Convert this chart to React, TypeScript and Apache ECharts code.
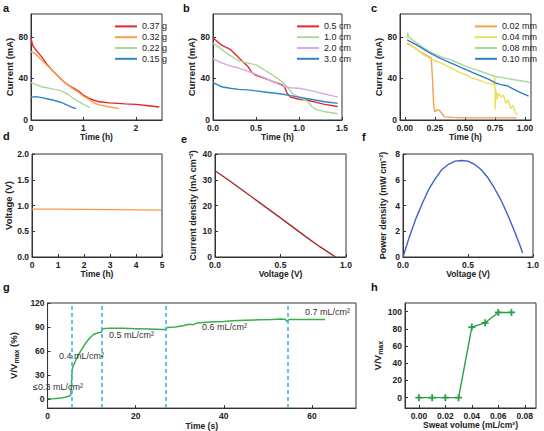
import React, { useEffect, useRef } from 'react';
import * as echarts from 'echarts';

const FONT = '"Liberation Sans", Arial, Helvetica, sans-serif';
const AX = '#333';
const TXT = '#222';

// ---------- Panel a ----------
const aNames = ['0.37 g', '0.32 g', '0.22 g', '0.15 g'];
const aColors = ['#E3262B', '#F9A04A', '#A9D89B', '#2C86C9'];
const a037 = [[0, 79], [0.03, 72], [0.1, 67], [0.2, 61], [0.3, 54], [0.4, 48], [0.5, 43], [0.6, 38], [0.7, 34], [0.8, 31], [0.9, 28], [1.0, 24], [1.1, 21], [1.2, 19], [1.3, 17.5], [1.5, 16.5], [1.8, 15.5], [2.0, 15], [2.2, 14], [2.45, 12.5]];
const a032 = [[0, 66], [0.1, 63], [0.2, 58], [0.3, 53], [0.4, 48], [0.5, 43], [0.6, 38], [0.7, 34], [0.8, 30], [0.9, 27], [1.0, 23], [1.1, 20], [1.2, 16.5], [1.3, 14.5], [1.5, 12.5], [1.68, 11]];
const a022 = [[0, 36], [0.1, 34], [0.2, 32], [0.3, 31], [0.4, 30], [0.5, 29], [0.6, 27.5], [0.7, 25], [0.8, 21], [0.9, 18], [1.0, 15], [1.12, 12]];
const a015 = [[0, 22], [0.1, 22.5], [0.2, 21.5], [0.3, 20.5], [0.4, 19.5], [0.5, 18], [0.6, 16.5], [0.7, 14], [0.8, 12], [0.86, 11]];

// ---------- Panel b ----------
const bNames = ['0.5 cm', '1.0 cm', '2.0 cm', '3.0 cm'];
const bColors = ['#E8262C', '#A9D89B', '#D7ACE0', '#2C86C9'];
const b05 = [[0, 79], [0.1, 72], [0.2, 68], [0.3, 60], [0.4, 52], [0.45, 46], [0.5, 43], [0.6, 40], [0.7, 37], [0.8, 34], [0.83, 32], [0.86, 26], [0.9, 22], [1.0, 20], [1.1, 19], [1.2, 17], [1.3, 15], [1.45, 13]];
const b10 = [[0, 74], [0.1, 68], [0.2, 62], [0.3, 57], [0.4, 55], [0.5, 53], [0.6, 48], [0.7, 43], [0.8, 37], [0.87, 31], [0.93, 25], [1.0, 22], [1.1, 18], [1.15, 13], [1.2, 10], [1.3, 8], [1.45, 6]];
const b20 = [[0, 59], [0.1, 55], [0.2, 52], [0.3, 50], [0.4, 47], [0.5, 44], [0.6, 40.5], [0.7, 37], [0.8, 33], [0.9, 31], [1.0, 30.5], [1.1, 29], [1.2, 27], [1.3, 25], [1.45, 22]];
const b30 = [[0, 36], [0.05, 34], [0.1, 32], [0.2, 30.5], [0.3, 29.5], [0.4, 29], [0.5, 28], [0.6, 27], [0.7, 26], [0.8, 25], [0.9, 23.5], [1.0, 22], [1.1, 20.5], [1.2, 19], [1.3, 17.5], [1.45, 16]];

// ---------- Panel c ----------
const cNames = ['0.02 mm', '0.04 mm', '0.08 mm', '0.10 mm'];
const cColors = ['#F7A04C', '#EBE15C', '#A9D89B', '#2C7DC8'];
const c002 = [[0.02, 74], [0.05, 72], [0.1, 68], [0.15, 64], [0.2, 61], [0.22, 60], [0.23, 40], [0.24, 15], [0.25, 8], [0.27, 10], [0.29, 9], [0.31, 6], [0.33, 3], [0.4, 2.5], [0.5, 2], [0.6, 2], [0.7, 2], [0.8, 2], [0.93, 2]];
const c004 = [[0.02, 73], [0.05, 72], [0.1, 68], [0.15, 63], [0.2, 60], [0.25, 57], [0.3, 55], [0.35, 52], [0.4, 49], [0.45, 46], [0.5, 44], [0.55, 41], [0.6, 39], [0.65, 37], [0.7, 35], [0.74, 34], [0.75, 42], [0.752, 10], [0.76, 28], [0.77, 20], [0.78, 26], [0.8, 22], [0.82, 24], [0.84, 16], [0.86, 19], [0.88, 11], [0.9, 14], [0.92, 7], [0.94, 5]];
const c008 = [[0.02, 79], [0.025, 84], [0.03, 80], [0.1, 74], [0.2, 66], [0.3, 61], [0.4, 57], [0.5, 52], [0.6, 48], [0.7, 44], [0.75, 42], [0.8, 41], [0.9, 39], [1.0, 37], [1.04, 36]];
const c010 = [[0.02, 77], [0.1, 72], [0.2, 65], [0.3, 59], [0.4, 54], [0.5, 49], [0.6, 44], [0.7, 39], [0.75, 36], [0.8, 34], [0.85, 33], [0.9, 30], [0.95, 27], [1.03, 23]];

// ---------- Panel d, e, f ----------
const dVoltage = [[0, 0.93], [1, 0.93], [2, 0.925], [3, 0.92], [4, 0.915], [5, 0.91]];
const eCurrent = [[0, 33.5], [0.1, 30], [0.2, 26.3], [0.3, 22.6], [0.4, 18.9], [0.5, 15.2], [0.6, 11.4], [0.7, 7.6], [0.8, 4], [0.92, 0]];
const fPower = [[0, 0], [0.05, 1.6], [0.1, 3.0], [0.15, 4.2], [0.2, 5.3], [0.25, 6.1], [0.3, 6.8], [0.35, 7.2], [0.4, 7.45], [0.45, 7.5], [0.5, 7.45], [0.55, 7.2], [0.6, 6.8], [0.65, 6.2], [0.7, 5.4], [0.75, 4.5], [0.8, 3.4], [0.85, 2.2], [0.9, 0.9], [0.92, 0.3]];

// ---------- Panel g ----------
const gRatio = [[0, 1], [1, 0.5], [2, 1], [3, 1.5], [4, 2.5], [5, 4], [5.3, 6], [5.5, 30], [5.7, 40], [6.5, 50], [7.5, 60], [8.5, 69], [9.5, 76], [10.5, 81], [11.5, 83], [12.2, 83.5], [12.5, 88], [14, 88.5], [17, 88.5], [20, 88], [23, 87.5], [26, 87], [26.8, 87], [27.2, 89.5], [29, 90], [31, 92], [32, 93.5], [33, 93], [34, 95], [36, 96], [38, 96.5], [40, 97], [42, 98], [45, 98.5], [48, 99], [51, 99.5], [53, 100], [54, 99.5], [54.3, 97], [54.8, 99.5], [57, 99.5], [60, 99.5], [63, 99.5]];
const gDividers = [5.4, 12.2, 26.9, 54.5];
const gLabels = ['≤0.3 mL/cm²', '0.4 mL/cm²', '0.5 mL/cm²', '0.6 mL/cm²', '0.7 mL/cm²'];

// ---------- Panel h ----------
const hVolume = [0, 0.01, 0.02, 0.03, 0.04, 0.05, 0.06, 0.07];
const hRatio = [0, 0, 0, 0, 82, 87, 99, 99];

const labelStyle = { fontFamily: FONT, fontWeight: 'bold' as const, fontSize: 8.5, color: TXT, margin: 3 };

function xAx(grid: number, min: number, max: number, ticks: number[], dec: number, name: string, nameGap = 9) {
  return {
    type: 'value', gridIndex: grid, min, max, name, nameLocation: 'middle', nameGap,
    nameTextStyle: { fontFamily: FONT, fontWeight: 'bold', fontSize: 8.5, color: TXT },
    axisLine: { show: true, onZero: false, lineStyle: { color: AX, width: 1 } },
    axisTick: { show: true, inside: true, length: 3, customValues: ticks, lineStyle: { color: AX } },
    axisLabel: { ...labelStyle, customValues: ticks, formatter: (v: number) => Number(v).toFixed(dec) },
    splitLine: { show: false },
  };
}
function yAx(grid: number, min: number, max: number, ticks: number[], dec: number, name: string, nameGap = 15, nameStyle: any = {}) {
  return {
    type: 'value', gridIndex: grid, min, max, name, nameLocation: 'middle', nameGap,
    nameTextStyle: { fontFamily: FONT, fontWeight: 'bold', fontSize: 9.5, color: TXT, ...nameStyle },
    axisLine: { show: true, onZero: false, lineStyle: { color: AX, width: 1 } },
    axisTick: { show: true, inside: true, length: 3, customValues: ticks, lineStyle: { color: AX } },
    axisLabel: { ...labelStyle, customValues: ticks, formatter: (v: number) => Number(v).toFixed(dec) },
    splitLine: { show: false },
  };
}
function line(name: string, data: number[][], color: string, grid: number, width = 1.4) {
  return {
    type: 'line', name, data, xAxisIndex: grid, yAxisIndex: grid, showSymbol: false, symbol: 'none',
    lineStyle: { color, width }, itemStyle: { color }, z: 3,
  };
}
function legend(names: string[], left: number) {
  return {
    data: names, orient: 'vertical', left, top: 16, icon: 'rect', itemWidth: 22, itemHeight: 2, itemGap: 0,
    textStyle: { fontFamily: FONT, fontSize: 9, color: TXT, lineHeight: 10.8 },
    selectedMode: false,
  };
}
const letter = (t: string, x: number, y: number) => ({
  type: 'text', left: x, top: y, style: { text: t, font: `bold 11px ${FONT}`, fill: '#111' },
});
const note = (t: string, x: number, y: number) => ({
  type: 'text', left: x, top: y, z: 10, style: { text: t, font: `9px ${FONT}`, fill: '#333' },
});
const richSub = {
  a: { fontFamily: FONT, fontWeight: 'bold', fontSize: 9.5, color: TXT, lineHeight: 13 },
  s: { fontFamily: FONT, fontWeight: 'bold', fontSize: 7, color: TXT, lineHeight: 13, verticalAlign: 'bottom', padding: [3, 0, 0, 0] },
};

export default function App() {
  const ref = useRef<HTMLDivElement>(null);
  useEffect(() => {
    if (!ref.current) return;
    const chart = echarts.init(ref.current, undefined, { renderer: 'svg' });
    const gridBase = { show: true, borderColor: AX, borderWidth: 1, backgroundColor: 'transparent', containLabel: false };
    const option: any = {
      animation: false,
      backgroundColor: '#fff',
      textStyle: { fontFamily: FONT },
      grid: [
        { ...gridBase, left: 31, top: 14, width: 131, height: 106 },
        { ...gridBase, left: 213, top: 14, width: 129, height: 106 },
        { ...gridBase, left: 400, top: 14, width: 131, height: 106 },
        { ...gridBase, left: 32, top: 154, width: 130, height: 103 },
        { ...gridBase, left: 215, top: 154, width: 131, height: 103 },
        { ...gridBase, left: 403, top: 154, width: 130, height: 103 },
        { ...gridBase, left: 31, top: 303, width: 325, height: 106 },
        { ...gridBase, left: 405, top: 303, width: 131, height: 105 },
      ],
      xAxis: [
        xAx(0, 0, 2.5, [0, 1, 2], 0, 'Time (h)'),
        xAx(1, 0, 1.5, [0, 0.5, 1, 1.5], 1, 'Time (h)'),
        xAx(2, -0.04, 1.05, [0, 0.25, 0.5, 0.75, 1], 2, 'Time (h)'),
        xAx(3, 0, 5, [0, 1, 2, 3, 4, 5], 0, 'Time (h)'),
        xAx(4, 0, 1, [0, 0.5, 1], 1, 'Voltage (V)'),
        xAx(5, 0, 1, [0, 0.5, 1], 1, 'Voltage (V)'),
        xAx(6, 0, 70, [0, 20, 40, 60], 0, 'Time (s)', 10),
        xAx(7, -0.0105, 0.0885, [0, 0.02, 0.04, 0.06, 0.08], 2, 'Sweat volume (mL/cm²)', 10),
      ],
      yAxis: [
        yAx(0, 0, 102, [0, 40, 80], 0, 'Current (mA)'),
        yAx(1, 0, 102, [0, 40, 80], 0, 'Current (mA)'),
        yAx(2, 0, 102, [0, 40, 80], 0, 'Current (mA)'),
        yAx(3, 0, 2, [0, 0.5, 1, 1.5, 2], 1, 'Voltage (V)', 18),
        yAx(4, 0, 40, [0, 10, 20, 30, 40], 0, 'Current density (mA cm⁻²)', 18, { fontSize: 9 }),
        yAx(5, 0, 8, [0, 2, 4, 6, 8], 0, 'Power density (mW cm⁻²)', 16, { fontSize: 9 }),
        yAx(6, -11, 120, [0, 30, 60, 90, 120], 0, '{a|V/V}{s|max}{a| (%)}', 17, { rich: richSub }),
        yAx(7, -12, 110, [0, 20, 40, 60, 80, 100], 0, '{a|V/V}{s|max}', 19, { rich: richSub }),
      ],
      legend: [legend(aNames, 110), legend(bNames, 292), legend(cNames, 470)],
      series: [
        line(aNames[0], a037, aColors[0], 0),
        line(aNames[1], a032, aColors[1], 0),
        line(aNames[2], a022, aColors[2], 0),
        line(aNames[3], a015, aColors[3], 0),
        line(bNames[0], b05, bColors[0], 1),
        line(bNames[1], b10, bColors[1], 1),
        line(bNames[2], b20, bColors[2], 1),
        line(bNames[3], b30, bColors[3], 1),
        line(cNames[0], c002, cColors[0], 2),
        line(cNames[1], c004, cColors[1], 2),
        line(cNames[2], c008, cColors[2], 2),
        line(cNames[3], c010, cColors[3], 2),
        line('Voltage', dVoltage, '#F79A3E', 3),
        line('Current density', eCurrent, '#A3282B', 4),
        line('Power density', fPower, '#3E5FC9', 5),
        {
          ...line('V/Vmax', gRatio, '#3AAE4A', 6, 1.5),
          markLine: {
            silent: true, symbol: 'none', label: { show: false },
            lineStyle: { color: '#3DB5E8', type: [4, 3], width: 1.6 },
            data: gDividers.map((x) => ({ xAxis: x })),
          },
        },
        {
          type: 'line', name: 'Sweat', xAxisIndex: 7, yAxisIndex: 7,
          data: hVolume.map((v, i) => [v, hRatio[i]]),
          symbol: 'path://M3,0 H5 V3 H8 V5 H5 V8 H3 V5 H0 V3 H3 Z', symbolSize: 7,
          lineStyle: { color: '#2A9E40', width: 1.4 }, itemStyle: { color: '#2A9E40' },
        },
      ],
      graphic: [
        letter('a', 3, 2), letter('b', 183, 2), letter('c', 371, 2),
        letter('d', 3, 130), letter('e', 181, 133), letter('f', 362, 131),
        letter('g', 3, 281), letter('h', 371, 281),
        note(gLabels[0], 33, 382), note(gLabels[1], 59, 351), note(gLabels[2], 109, 330),
        note(gLabels[3], 202, 322), note(gLabels[4], 305, 307),
      ],
    };
    chart.setOption(option);
    return () => chart.dispose();
  }, []);
  return <div ref={ref} style={{ position: 'fixed', left: 0, top: 0, width: 544, height: 431 }} />;
}
